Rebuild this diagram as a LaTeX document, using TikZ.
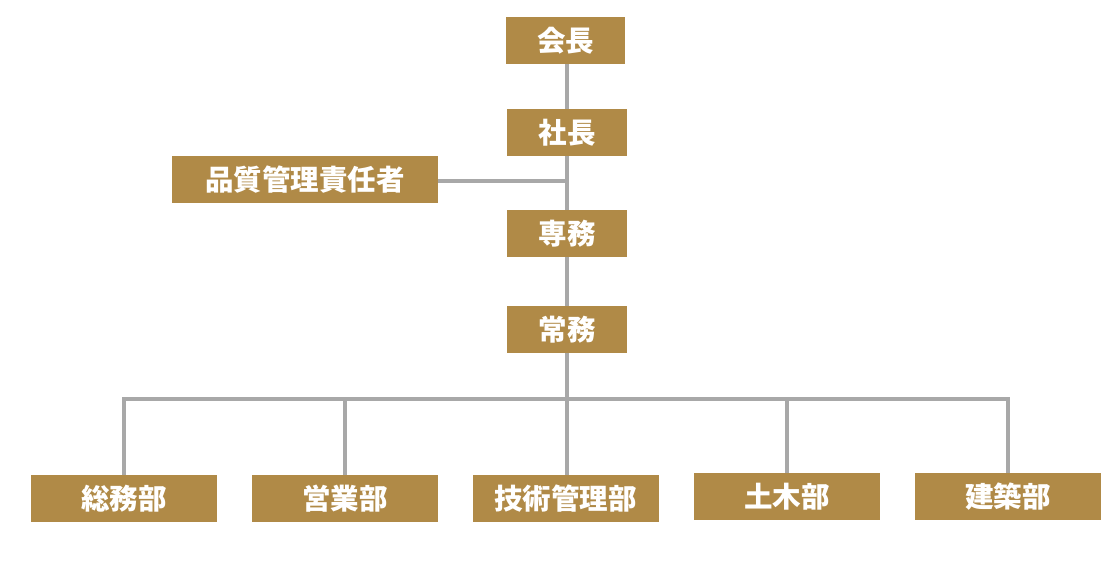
\documentclass[tikz,border=0pt]{standalone}
\usepackage{fontspec}
\newfontfamily\cjk{Noto Sans CJK JP}
\definecolor{gold}{HTML}{B08A47}
\definecolor{linegray}{HTML}{A8A8A8}
\begin{document}
\begin{tikzpicture}[x=1pt,y=-1pt,
  box/.style={fill=gold,text=white,inner sep=0pt,minimum height=47pt,
    font=\cjk\bfseries\fontsize{28.5}{31}\selectfont},
  small/.style={box,minimum width=120pt},
  wide/.style={box,minimum width=186pt},
  conn/.style={draw=linegray,line width=3.2pt}]
\useasboundingbox (0,0) rectangle (1119,563);
\node[box,minimum width=119pt] (kaicho) at (565.5,40.5) {会長};
\node[small] (shacho) at (567,132.5) {社長};
\node[box,minimum width=266pt] (hinshitsu) at (305,179.5) {品質管理責任者};
\node[small] (senmu) at (567,233.5) {専務};
\node[small] (jomu) at (567,329.5) {常務};
\node[wide] (soumu) at (124,498.5) {総務部};
\node[wide] (eigyo) at (345,498.5) {営業部};
\node[wide] (gijutsu) at (565.5,498.5) {技術管理部};
\node[wide] (doboku) at (787,496.5) {土木部};
\node[wide] (kenchiku) at (1008,496.5) {建築部};
\coordinate (bus) at (0,399);
\coordinate (qj) at (567,181);
\draw[conn] (kaicho.south -| shacho.north) -- (shacho.north);
\draw[conn] (shacho.south) -- (senmu.north);
\draw[conn] (hinshitsu.east |- qj) -- (qj);
\draw[conn] (senmu.south) -- (jomu.north);
\draw[conn] (jomu.south) -- (jomu.south |- gijutsu.north);
\draw[conn] (soumu.north) -- (soumu.north |- bus) -- (kenchiku.north |- bus) -- (kenchiku.north);
\draw[conn] (eigyo.north) -- (eigyo.north |- bus);
\draw[conn] (doboku.north) -- (doboku.north |- bus);
\end{tikzpicture}
\end{document}
